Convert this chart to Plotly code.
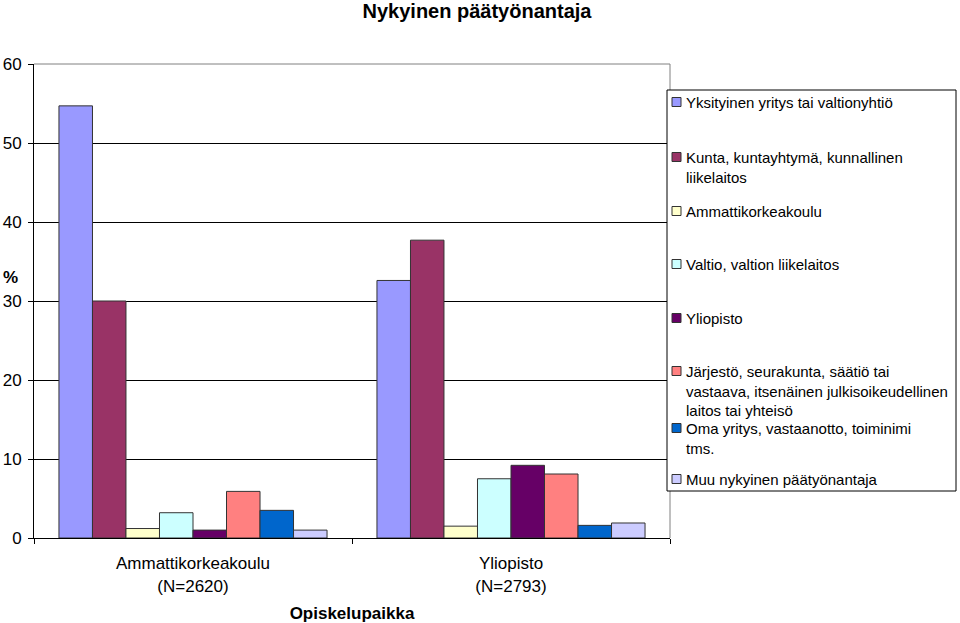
import plotly.graph_objects as go

categories = ["Ammattikorkeakoulu<br>(N=2620)", "Yliopisto<br>(N=2793)"]
series_names = [
    "Yksityinen yritys tai valtionyhtiö",
    "Kunta, kuntayhtymä, kunnallinen<br>liikelaitos",
    "Ammattikorkeakoulu",
    "Valtio, valtion liikelaitos",
    "Yliopisto",
    "Järjestö, seurakunta, säätiö tai<br>vastaava, itsenäinen julkisoikeudellinen<br>laitos tai yhteisö",
    "Oma yritys, vastaanotto, toiminimi<br>tms.",
    "Muu nykyinen päätyönantaja",
]
values_amk = [54.7, 30.0, 1.2, 3.2, 1.0, 5.9, 3.5, 1.0]
values_yo = [32.6, 37.7, 1.5, 7.5, 9.2, 8.1, 1.6, 1.9]
colors = ["#9999FF", "#993366", "#FFFFCC", "#CCFFFF", "#660066", "#FF8080", "#0066CC", "#CCCCFF"]
y_ticks = [0, 10, 20, 30, 40, 50, 60]

FONT = "Liberation Sans, Arial, sans-serif"
W, H = 960, 623
L, R, T, B = 34, 670, 64, 538

fig = go.Figure()
for i, name in enumerate(series_names):
    fig.add_trace(go.Bar(
        x=categories, y=[values_amk[i], values_yo[i]], name=name,
        marker=dict(color=colors[i], line=dict(color="#333333", width=1)),
        showlegend=False,
    ))

def px(xp):
    return (xp - L) / (R - L)

def py(yp):
    return (B - yp) / (B - T)

shapes = [
    dict(type="line", xref="paper", yref="paper", x0=0, x1=1, y0=1, y1=1,
         line=dict(color="#808080", width=1), layer="above"),
    dict(type="line", xref="paper", yref="paper", x0=1, x1=1, y0=0, y1=1,
         line=dict(color="#808080", width=1), layer="above"),
    dict(type="rect", xref="paper", yref="paper", x0=px(667), x1=px(956), y0=py(491), y1=py(90),
         line=dict(color="black", width=1), fillcolor="white", layer="above"),
]
annotations = []
first_line_y = [102, 157, 211, 264, 318, 371, 428, 479]
for i, name in enumerate(series_names):
    yc = first_line_y[i]
    shapes.append(dict(type="rect", xref="paper", yref="paper",
                       x0=px(672), x1=px(681), y0=py(yc + 4.5), y1=py(yc - 4.5),
                       fillcolor=colors[i], line=dict(color="#333333", width=1), layer="above"))
    annotations.append(dict(xref="paper", yref="paper", x=px(684), y=py(yc - 10.5),
                            xanchor="left", yanchor="top", align="left", showarrow=False,
                            text=name, font=dict(family=FONT, size=15, color="black")))

annotations.append(dict(xref="paper", yref="paper", x=px(10), y=py(277), xanchor="center",
                        yanchor="middle", showarrow=False, text="<b>%</b>",
                        font=dict(family=FONT, size=17, color="black")))

fig.update_layout(
    width=W, height=H,
    margin=dict(l=L, r=W - R, t=T, b=H - B, pad=0),
    paper_bgcolor="white", plot_bgcolor="white",
    barmode="group", bargap=0.157, bargroupgap=0,
    title=dict(text="<b>Nykyinen päätyönantaja</b>", x=477 / W, xanchor="center",
               y=1 - 10.5 / H, yanchor="middle", font=dict(family=FONT, size=20, color="black")),
    font=dict(family=FONT, size=17, color="black"),
    xaxis=dict(showline=True, linecolor="black", linewidth=1, ticks="outside", automargin=False,
               tickson="boundaries", ticklen=5, tickcolor="black", ticklabelstandoff=10,
               title=dict(text="<b>Opiskelupaikka</b>", standoff=12,
                          font=dict(family=FONT, size=17, color="black")),
               tickfont=dict(family=FONT, size=17, color="black")),
    yaxis=dict(range=[0, 60], tickvals=y_ticks, showline=True, linecolor="black", linewidth=1,
               ticks="outside", ticklen=5, tickcolor="black", showgrid=True, ticklabelstandoff=3,
               gridcolor="black", gridwidth=1, zeroline=False, automargin=False,
               tickfont=dict(family=FONT, size=17, color="black")),
    shapes=shapes, annotations=annotations,
)

fig.write_html("out.html", config={"displayModeBar": False},
               post_script="document.body.style.margin='0';")
